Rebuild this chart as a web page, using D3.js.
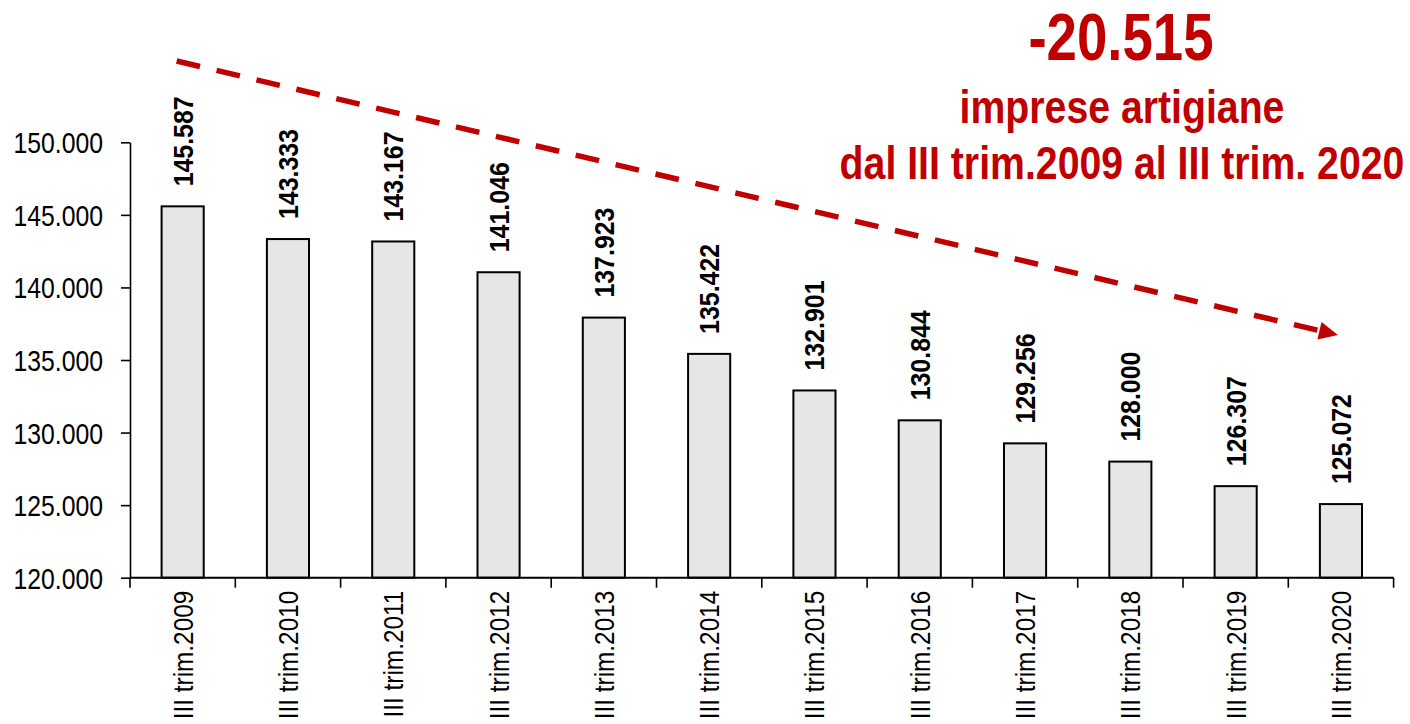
<!DOCTYPE html>
<html>
<head>
<meta charset="utf-8">
<script src="https://cdn.jsdelivr.net/npm/d3@7"></script>
<style>
  html, body { margin: 0; padding: 0; background: #fff; }
  svg { display: block; }
  text { font-family: "Liberation Sans", Arial, sans-serif; }
</style>
</head>
<body>
<svg id="chart" width="1410" height="724"></svg>
<script>
// ---- data ----
const categories = ["III trim.2009","III trim.2010","III trim.2011","III trim.2012","III trim.2013","III trim.2014",
                    "III trim.2015","III trim.2016","III trim.2017","III trim.2018","III trim.2019","III trim.2020"];
const values = [145587, 143333, 143167, 141046, 137923, 135422, 132901, 130844, 129256, 128000, 126307, 125072];
const yTicks = [120000, 125000, 130000, 135000, 140000, 145000, 150000];
const annotationLines = ["-20.515", "imprese artigiane", "dal III trim.2009 al III trim. 2020"];

const svg = d3.select("#chart");
const RED = "#C00000";

const itFmt = d3.formatLocale({decimal: ",", thousands: ".", grouping: [3], currency: ["€",""]}).format(",d");

const x = d3.scaleBand().domain(categories).range([130, 1393.6]).padding(0);
const y = d3.scaleLinear().domain([120000, 150000]).range([577.7, 142.3]);

// ---- bars ----
const barW = x.bandwidth() * 0.4;
svg.append("g").selectAll("rect").data(values).join("rect")
  .attr("x", (d, i) => x(categories[i]) + x.bandwidth() / 2 - barW / 2)
  .attr("y", d => y(d))
  .attr("width", barW)
  .attr("height", d => y(120000) - y(d))
  .attr("fill", "#e6e6e6")
  .attr("stroke", "#000")
  .attr("stroke-width", 2);

// ---- y axis ----
const yAxis = svg.append("g").attr("transform", "translate(130,0)")
  .call(d3.axisLeft(y).tickValues(yTicks).tickFormat(itFmt).tickSize(9).tickSizeOuter(0).tickPadding(18));
yAxis.select(".domain").attr("stroke", "#000").attr("stroke-width", 1.6);
yAxis.selectAll(".tick line").attr("stroke", "#000").attr("stroke-width", 1.6);
yAxis.selectAll(".tick text")
  .attr("font-size", 29).attr("fill", "#000")
  .attr("font-family", "'Liberation Sans', Arial, sans-serif")
  .attr("x", 0)
  .attr("dy", "0.36em")
  .attr("transform", "translate(-27,0) scale(0.855,1)");

// ---- x axis ----
const xAxisG = svg.append("g").attr("transform", `translate(0,${y(120000)})`);
xAxisG.append("line").attr("x1", 130).attr("x2", 1393.6).attr("y1", 0).attr("y2", 0)
  .attr("stroke", "#000").attr("stroke-width", 2);
const bounds = categories.map(c => x(c)).concat([x(categories[categories.length - 1]) + x.bandwidth()]);
xAxisG.selectAll("line.tk").data(bounds).join("line").attr("class", "tk")
  .attr("x1", d => d).attr("x2", d => d).attr("y1", 0).attr("y2", 10)
  .attr("stroke", "#000").attr("stroke-width", 1.6);
xAxisG.selectAll("text.xl").data(categories).join("text").attr("class", "xl")
  .attr("transform", d => `translate(${x(d) + x.bandwidth() / 2 + 10},13) rotate(-90) scale(0.87,1)`)
  .attr("text-anchor", "end")
  .attr("font-size", 28)
  .attr("fill", "#000")
  .text(d => d);

// ---- value labels ----
svg.append("g").selectAll("text").data(values).join("text")
  .attr("transform", (d, i) => `translate(${x(categories[i]) + x.bandwidth() / 2 + 10},${y(d) - 65}) rotate(-90) scale(0.89,1)`)
  .attr("text-anchor", "middle")
  .attr("font-size", 28)
  .attr("font-weight", "bold")
  .attr("fill", "#000")
  .text(d => itFmt(d));

// ---- dashed trend arrow ----
const x0 = x(categories[0]) + x.bandwidth() / 2 - 6;
const x1 = x(categories[categories.length - 1]) + x.bandwidth() / 2 - 3;
const p0 = [x0, 61], p1 = [x1, 335];
const ang = Math.atan2(p1[1] - p0[1], p1[0] - p0[0]);
const headLen = 19;
const lineEnd = [p1[0] - headLen * Math.cos(ang), p1[1] - headLen * Math.sin(ang)];
svg.append("line")
  .attr("x1", p0[0]).attr("y1", p0[1]).attr("x2", lineEnd[0]).attr("y2", lineEnd[1])
  .attr("stroke", RED).attr("stroke-width", 5.5).attr("stroke-dasharray", "24 17");
const hw = 9;
const bx = lineEnd[0], by = lineEnd[1];
svg.append("path")
  .attr("d", `M${p1[0]},${p1[1]} L${bx - hw * Math.sin(ang)},${by + hw * Math.cos(ang)} L${bx + hw * Math.sin(ang)},${by - hw * Math.cos(ang)} Z`)
  .attr("fill", RED);

// ---- annotation ----
const ann = svg.append("g").attr("fill", RED).attr("font-weight", "bold");
ann.append("text").attr("transform", "translate(1121,60) scale(0.815,1)").attr("text-anchor", "middle")
  .attr("font-size", 67).text(annotationLines[0]);
ann.append("text").attr("transform", "translate(1122,123) scale(0.835,1)").attr("text-anchor", "middle")
  .attr("font-size", 47).text(annotationLines[1]);
ann.append("text").attr("transform", "translate(1122,179) scale(0.835,1)").attr("text-anchor", "middle")
  .attr("font-size", 47).text(annotationLines[2]);
</script>
</body>
</html>
